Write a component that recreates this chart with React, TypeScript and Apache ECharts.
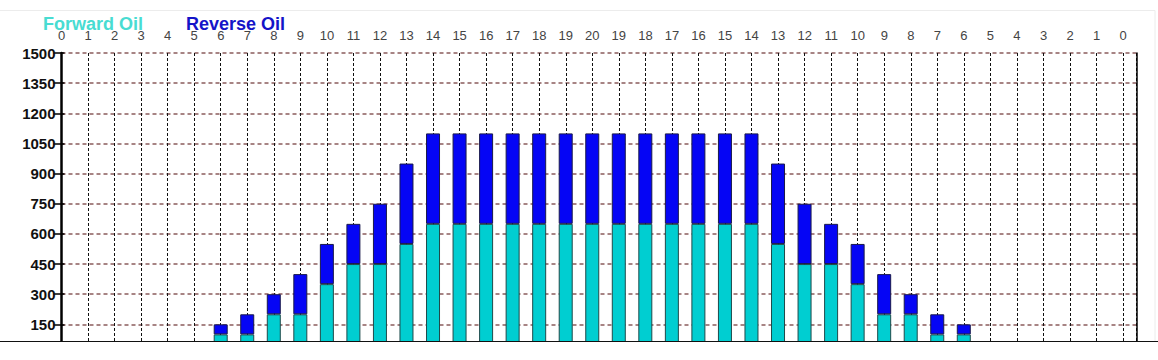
import React, { useEffect, useRef } from "react";
import * as echarts from "echarts";

const xLabels: string[] = [
  "0","1","2","3","4","5","6","7","8","9","10","11","12","13","14","15","16","17","18","19","20",
  "19","18","17","16","15","14","13","12","11","10","9","8","7","6","5","4","3","2","1","0",
];
const forwardOil: (number | null)[] = [
  null,null,null,null,null,null,100,100,200,200,350,450,450,550,650,650,650,650,650,650,650,
  650,650,650,650,650,650,550,450,450,350,200,200,100,100,null,null,null,null,null,null,
];
const reverseOil: (number | null)[] = [
  null,null,null,null,null,null,50,100,100,200,200,200,300,400,450,450,450,450,450,450,450,
  450,450,450,450,450,450,400,300,200,200,200,100,100,50,null,null,null,null,null,null,
];
const seriesNames = ["Forward Oil", "Reverse Oil"];

export default function App() {
  const ref = useRef<HTMLDivElement>(null);
  useEffect(() => {
    if (!ref.current) return;
    const chart = echarts.init(ref.current, null, { renderer: "svg" });
    const font = "Arial, 'Liberation Sans', sans-serif";
    const xCommon = { type: "value", min: 0, max: 40.5, interval: 1, position: "top", gridIndex: 0 };
    const yCommon = { type: "value", min: 0, max: 1500, interval: 150, gridIndex: 0 };
    const idx = xLabels.map((_, i) => String(i));
    chart.setOption({
      animation: false,
      backgroundColor: "#fff",
      legend: {
        left: 33,
        top: 10,
        icon: "none",
        itemWidth: 0,
        itemHeight: 18,
        itemGap: 38,
        selectedMode: false,
        textStyle: { fontFamily: font, fontWeight: "bold", fontSize: 18 },
        data: [
          { name: seriesNames[0], textStyle: { color: "#48dcd2" } },
          { name: seriesNames[1], textStyle: { color: "#1414c8" } },
        ],
      },
      graphic: [
        {
          type: "rect",
          shape: { x: -2, y: 10.5, width: 1157, height: 400 },
          style: { fill: "none", stroke: "#ececec", lineWidth: 1 },
          silent: true,
        },
      ],
      grid: [
        { left: 61.5, right: 21.6, top: 53, bottom: 15.5, containLabel: false },
        { left: 48.2, right: 21.7, top: 53, bottom: 15.5, containLabel: false },
      ],
      xAxis: [
        {
          ...xCommon,
          axisLine: { show: true, lineStyle: { color: "#000", width: 2 } },
          axisTick: { show: true, length: 5, lineStyle: { color: "#000", width: 1.5 } },
          axisLabel: {
            formatter: (v: number) => xLabels[v] ?? "",
            color: "#444",
            fontSize: 13,
            fontFamily: font,
            margin: 11,
            showMaxLabel: true,
          },
          splitLine: { show: true, lineStyle: { color: "#111", width: 1, type: [3, 2] } },
        },
        {
          ...xCommon,
          axisLine: { show: false },
          axisTick: { show: true, inside: true, length: 4, lineStyle: { color: "#000", width: 1.5 } },
          axisLabel: { show: false },
          splitLine: { show: false },
        },
        {
          type: "category",
          gridIndex: 1,
          data: idx,
          boundaryGap: true,
          show: false,
        },
      ],
      yAxis: [
        {
          ...yCommon,
          position: "left",
          axisLine: { show: true, lineStyle: { color: "#000", width: 2.5 } },
          axisTick: { show: true, length: 8, lineStyle: { color: "#000", width: 1.5 } },
          axisLabel: {
            formatter: (v: number) => (v === 0 ? "" : String(v)),
            color: "#111",
            fontWeight: "bold",
            fontSize: 15,
            fontFamily: font,
            margin: 6,
          },
          splitLine: { show: true, lineStyle: { color: "#8a5c5c", width: 1.5, type: [4, 3] } },
        },
        {
          ...yCommon,
          position: "left",
          axisLine: { show: false },
          axisTick: { show: true, inside: true, length: 3, lineStyle: { color: "#000", width: 1.5 } },
          axisLabel: { show: false },
          splitLine: { show: false },
        },
        {
          ...yCommon,
          position: "right",
          axisLine: { show: true, lineStyle: { color: "#000", width: 1.5 } },
          axisTick: { show: false },
          axisLabel: { show: false },
          splitLine: { show: false },
        },
        {
          type: "value",
          gridIndex: 1,
          min: 0,
          max: 1500,
          interval: 150,
          show: false,
        },
      ],
      series: [
        {
          name: seriesNames[0],
          type: "bar",
          stack: "oil",
          xAxisIndex: 2,
          yAxisIndex: 3,
          barWidth: 14,
          data: forwardOil,
          itemStyle: { color: "#00ced1", borderColor: "#1f4a4a", borderWidth: 1 },
        },
        {
          name: seriesNames[1],
          type: "bar",
          stack: "oil",
          xAxisIndex: 2,
          yAxisIndex: 3,
          barWidth: 14,
          data: reverseOil,
          itemStyle: { color: "#0505f5", borderColor: "#1a1a4a", borderWidth: 1 },
        },
      ],
    });
    return () => chart.dispose();
  }, []);
  return (
    <div
      style={{
        position: "absolute",
        left: 0,
        top: 0,
        width: 1158,
        height: 341,
        overflow: "hidden",
        borderBottom: "1.5px solid #111",
        background: "#fff",
      }}
    >
      <div ref={ref} style={{ width: 1158, height: 370 }} />
    </div>
  );
}
